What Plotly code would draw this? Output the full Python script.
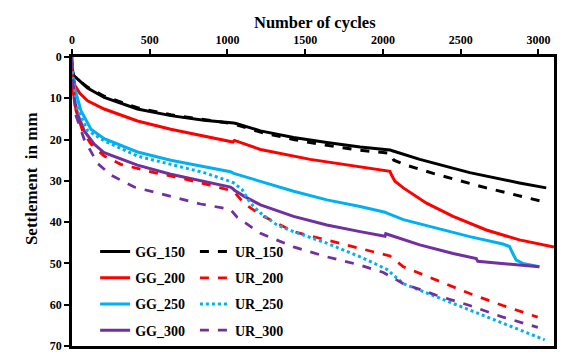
import plotly.graph_objects as go

# ---- data ----
gg150_x = [0, 10, 26, 100, 207, 421, 635, 848, 1040, 1055, 1212, 1425, 1639, 1853, 2045, 2060, 2237, 2558, 2878, 3050]
gg150_y = [3.0, 4.5, 5.0, 7.5, 9.8, 12.6, 14.2, 15.3, 16.0, 16.1, 17.9, 19.5, 20.7, 21.8, 22.5, 22.7, 24.8, 28.0, 30.5, 31.7]

ur150_x = [0, 10, 30, 100, 207, 421, 635, 848, 1040, 1212, 1425, 1639, 1853, 2045, 2070, 2150, 2323, 2665, 2942, 3050]
ur150_y = [3.0, 4.5, 5.3, 7.3, 9.5, 12.3, 14.0, 15.2, 16.2, 18.2, 20.0, 21.4, 22.6, 23.3, 25.0, 26.2, 28.2, 31.7, 34.1, 35.2]

gg200_x = [0, 10, 19, 50, 100, 207, 421, 635, 848, 1019, 1035, 1045, 1212, 1532, 1853, 2045, 2055, 2077, 2131, 2173, 2280, 2451, 2665, 2878, 3100]
gg200_y = [3.0, 5.5, 6.9, 8.8, 10.6, 12.6, 15.5, 17.5, 19.1, 20.5, 20.6, 20.2, 22.4, 24.8, 26.7, 27.7, 28.6, 30.1, 31.7, 32.8, 35.4, 38.6, 41.9, 44.3, 46.0]

ur200_x = [0, 10, 26, 68, 122, 207, 314, 528, 741, 955, 1040, 1105, 1212, 1425, 1639, 1853, 2045, 2131, 2344, 2558, 2771, 2995]
ur200_y = [3.0, 9.0, 13.0, 17.9, 21.1, 24.0, 26.0, 28.0, 29.7, 31.6, 32.5, 35.4, 38.2, 42.3, 44.3, 46.3, 48.2, 50.8, 54.0, 57.3, 60.2, 63.0]

gg250_x = [0, 5, 15, 58, 122, 207, 421, 635, 848, 1019, 1040, 1212, 1425, 1639, 1853, 2013, 2030, 2131, 2344, 2558, 2771, 2814, 2835, 2857, 2900, 3006]
gg250_y = [1.5, 4.0, 7.3, 13.0, 17.5, 19.8, 23.0, 25.0, 26.6, 27.8, 28.2, 30.1, 32.5, 34.6, 36.2, 37.6, 37.9, 39.4, 41.5, 43.5, 45.3, 45.9, 47.6, 49.2, 50.0, 50.8]

ur250_x = [0, 10, 30, 100, 207, 421, 635, 848, 998, 1040, 1094, 1147, 1212, 1319, 1425, 1639, 1853, 2024, 2131, 2344, 2558, 2771, 3040]
ur250_y = [2.0, 6.0, 12.0, 17.8, 20.3, 24.0, 26.0, 28.0, 29.9, 30.5, 32.1, 35.4, 37.8, 40.7, 42.3, 45.1, 48.4, 51.4, 54.9, 58.1, 61.4, 64.6, 68.5]

gg300_x = [0, 5, 15, 36, 79, 143, 207, 421, 635, 848, 1019, 1035, 1045, 1105, 1212, 1425, 1639, 1853, 2013, 2018, 2237, 2451, 2600, 2610, 2771, 3006]
gg300_y = [0.0, 5.0, 10.0, 13.8, 17.9, 21.1, 23.2, 26.2, 28.4, 30.1, 31.5, 31.9, 32.3, 33.7, 35.8, 38.6, 40.7, 42.3, 43.4, 42.8, 45.5, 47.6, 48.8, 49.5, 50.0, 50.8]

ur300_x = [0, 10, 26, 79, 165, 250, 400, 613, 827, 1019, 1062, 1212, 1425, 1639, 1853, 2003, 2131, 2344, 2558, 2771, 2996]
ur300_y = [1.0, 9.0, 14.2, 20.0, 25.8, 28.6, 31.5, 33.6, 35.6, 36.9, 38.8, 42.7, 46.0, 48.4, 50.4, 52.2, 54.9, 57.7, 60.2, 63.0, 65.5]

x_ticks = [0, 500, 1000, 1500, 2000, 2500, 3000]
y_ticks = [0, 10, 20, 30, 40, 50, 60, 70]

BLACK, RED, CYAN, PURPLE = "#000000", "#FF0000", "#00B0F0", "#7030A0"
FONT = "Liberation Serif"

series = [
    ("GG_150", gg150_x, gg150_y, BLACK, "solid", 3, "legend"),
    ("GG_200", gg200_x, gg200_y, RED, "solid", 3, "legend"),
    ("GG_250", gg250_x, gg250_y, CYAN, "solid", 3, "legend"),
    ("GG_300", gg300_x, gg300_y, PURPLE, "solid", 3, "legend"),
    ("UR_150", ur150_x, ur150_y, BLACK, "dash", 3, "legend2"),
    ("UR_200", ur200_x, ur200_y, RED, "dash", 2.75, "legend2"),
    ("UR_250", ur250_x, ur250_y, CYAN, "dot", 3, "legend2"),
    ("UR_300", ur300_x, ur300_y, PURPLE, "dash", 2.75, "legend2"),
]

fig = go.Figure()
for name, xs, ys, col, dash, w, lg in series:
    fig.add_trace(go.Scatter(x=xs, y=ys, mode="lines", name=name, legend=lg,
                             legendgroup=name,
                             line=dict(color=col, dash=dash, width=w)))

tick_font = dict(family=FONT, size=12, color="black", weight="bold")
leg_font = dict(family=FONT, size=14, color="black", weight="bold")

fig.update_layout(
    width=567, height=356,
    margin=dict(l=72, r=13, t=57, b=10),
    paper_bgcolor="white", plot_bgcolor="white",
    showlegend=True,
    legend=dict(x=0.048, y=0.0, xanchor="left", yanchor="bottom",
                font=leg_font, bgcolor="rgba(0,0,0,0)", tracegroupgap=5,
                itemwidth=30),
    legend2=dict(x=0.255, y=0.0, xanchor="left", yanchor="bottom",
                 font=leg_font, bgcolor="rgba(0,0,0,0)", tracegroupgap=5,
                 itemwidth=30),
    xaxis=dict(side="top", range=[0, 3100], tickvals=x_ticks, automargin=False,
               ticks="outside", ticklen=5, tickwidth=2, tickcolor="black",
               showline=True, linewidth=2.5, linecolor="black", mirror=True,
               showgrid=False, zeroline=False, tickfont=tick_font),
    yaxis=dict(range=[70, 0], tickvals=y_ticks, automargin=False,
               ticks="outside", ticklen=5, tickwidth=2, tickcolor="black",
               showline=True, linewidth=2.5, linecolor="black", mirror=True,
               showgrid=False, zeroline=False, tickfont=tick_font),
    annotations=[
        dict(text="Number of cycles", xref="paper", yref="paper",
             x=0.504, y=1.121, xanchor="center", yanchor="middle",
             showarrow=False, font=dict(family=FONT, size=16.5, color="black", weight="bold")),
        dict(text="Settlement&nbsp;&nbsp;in mm", xref="paper", yref="paper",
             x=-0.0836, y=0.58, xanchor="center", yanchor="middle", textangle=-90,
             showarrow=False, font=dict(family=FONT, size=17, color="black", weight="bold")),
    ],
)

fig.write_html("out.html")
